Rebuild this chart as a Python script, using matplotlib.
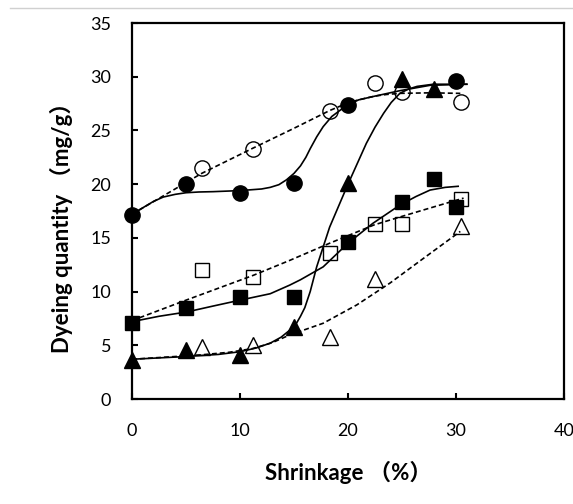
import matplotlib
matplotlib.use("Agg")
import matplotlib.pyplot as plt
from matplotlib.lines import Line2D

# ---- data ----
fc_x = [0, 5, 10, 15, 20, 30]                 # filled circles
fc_y = [17.1, 20.0, 19.2, 20.1, 27.4, 29.6]
oc_x = [6.5, 11.2, 18.3, 22.5, 25.0, 30.5]    # open circles
oc_y = [21.5, 23.3, 26.8, 29.4, 28.6, 27.6]
ft_x = [0, 5, 10, 15, 20, 25, 28]             # filled triangles
ft_y = [3.6, 4.6, 4.1, 6.7, 20.1, 29.8, 28.9]
ot_x = [6.5, 11.2, 18.3, 22.5, 30.5]          # open triangles
ot_y = [4.8, 5.0, 5.8, 11.2, 16.1]
fs_x = [0, 5, 10, 15, 20, 25, 28, 30]         # filled squares
fs_y = [7.1, 8.5, 9.5, 9.5, 14.6, 18.3, 20.5, 17.9]
os_x = [6.5, 11.2, 18.3, 22.5, 25.0, 30.5]    # open squares
os_y = [12.0, 11.4, 13.6, 16.3, 16.3, 18.6]

# trend curves
cfc_x = [0, 1.0, 2.0, 2.9, 4.0, 5, 6.2, 7.5, 10, 12.0, 12.8, 13.6, 14.3, 15.0, 15.6, 16.1, 16.5,
         17.1, 17.7, 18.5, 19.3, 20.0, 21.0, 22.3, 24.8, 27.6, 31.0]
cfc_y = [17.2, 17.8, 18.4, 18.8, 19.05, 19.2, 19.27, 19.3, 19.4, 19.55, 19.7, 19.95, 20.4, 21.0,
         21.7, 22.5, 23.3, 24.4, 25.35, 26.3, 26.9, 27.4, 27.85, 28.15, 28.7, 29.2, 29.3]
coc_x = [0, 6.45, 11.2, 15.0, 18.3, 19.6, 20.8, 22.5, 23.6, 24.8, 27.6, 30.4]
coc_y = [17.2, 21.0, 23.35, 25.2, 26.85, 27.4, 27.8, 28.2, 28.35, 28.45, 28.5, 28.45]
cft_x = [0, 4.75, 8.0, 10, 11.5, 12.8, 13.8, 14.6, 15.2, 15.6, 16.0, 16.5, 17.1, 18.3, 20.0,
         21.7, 22.5, 23.3, 24.0, 24.8, 25.6, 26.4, 27.9, 31.0]
cft_y = [3.7, 3.94, 4.15, 4.4, 4.75, 5.2, 5.75, 6.4, 7.0, 7.7, 8.5, 10.0, 12.3, 16.0, 20.0,
         23.8, 25.3, 26.6, 27.6, 28.45, 28.85, 29.1, 29.3, 29.3]
cot_x = [0, 6.3, 9.0, 11.2, 13.0, 14.6, 17.7, 20.8, 23.9, 27.0, 30.4]
cot_y = [3.7, 4.1, 4.35, 4.7, 5.25, 5.96, 7.05, 8.75, 10.8, 13.1, 15.6]
cfs_x = [0, 2.5, 5.06, 7.5, 10, 12.8, 14.6, 15.6, 17.7, 20.0, 22.3, 24.8, 26.3, 27.6, 29.0, 30.2]
cfs_y = [7.2, 7.7, 8.1, 8.65, 9.2, 9.8, 10.6, 11.1, 12.3, 14.5, 16.35, 18.05, 18.85, 19.45, 19.7, 19.8]
cos_x = [0, 5, 11.2, 14.6, 18.3, 22.4, 25.0, 27.0, 30.7]
cos_y = [7.3, 9.2, 11.5, 12.9, 14.5, 16.2, 17.0, 17.6, 18.7]

x_ticks = [0, 10, 20, 30, 40]
y_ticks = [0, 5, 10, 15, 20, 25, 30, 35]

FONT = ['Lato', 'Noto Sans CJK JP', 'DejaVu Sans']
plt.rcParams['font.family'] = FONT

fig = plt.figure(figsize=(5.73, 5.04), dpi=100)
ax = fig.add_axes([132/573, 1-399/504, (564-132)/573, (399-23)/504])

lw = 1.2
dash = (3.0, 1.8)
# curves
ax.plot(cfc_x, cfc_y, color='black', lw=lw, zorder=2)
ax.plot(cft_x, cft_y, color='black', lw=lw, zorder=2)
ax.plot(cfs_x, cfs_y, color='black', lw=lw, zorder=2)
ax.plot(coc_x, coc_y, color='black', lw=lw, dashes=dash, zorder=2)
ax.plot(cot_x, cot_y, color='black', lw=lw, dashes=dash, zorder=2)
ax.plot(cos_x, cos_y, color='black', lw=lw, dashes=dash, zorder=2)

# markers
ax.plot(fc_x, fc_y, 'o', ms=11, mfc='black', mec='black', ls='none', zorder=3, clip_on=False)
ax.plot(oc_x, oc_y, 'o', ms=11, mfc='none', mec='black', mew=1.0, ls='none', zorder=3)
ax.plot(ft_x, ft_y, '^', ms=11, mfc='black', mec='black', ls='none', zorder=3, clip_on=False)
ax.plot(ot_x, ot_y, '^', ms=11, mfc='none', mec='black', mew=1.0, ls='none', zorder=3)
ax.plot(fs_x, fs_y, 's', ms=9.5, mfc='black', mec='black', ls='none', zorder=3, clip_on=False)
ax.plot(os_x, os_y, 's', ms=9.5, mfc='none', mec='black', mew=1.0, ls='none', zorder=3)

ax.set_xlim(0, 40)
ax.set_ylim(0, 35)
ax.set_xticks(x_ticks)
ax.set_yticks(y_ticks)
ax.tick_params(axis='both', direction='in', length=4.5, width=1.5, labelsize=13, colors='black')
ax.tick_params(axis='x', pad=17)
ax.tick_params(axis='y', pad=15)
for s in ax.spines.values():
    s.set_linewidth(1.6)
    s.set_color('black')

fig.text(348/573, 1-472/504, 'Shrinkage （%）', ha='center', va='center',
         fontsize=16, fontweight='bold', family=FONT)
fig.text(61/573, 1-222/504, 'Dyeing quantity （mg/g）', ha='center', va='center',
         rotation=90, fontsize=16, fontweight='bold', family=FONT)

# thin top rule
fig.add_artist(Line2D([10/573, 1.0], [1-8/504, 1-8/504], color='#d0d0d0', lw=1.0))

fig.savefig('out.png', dpi=100)
